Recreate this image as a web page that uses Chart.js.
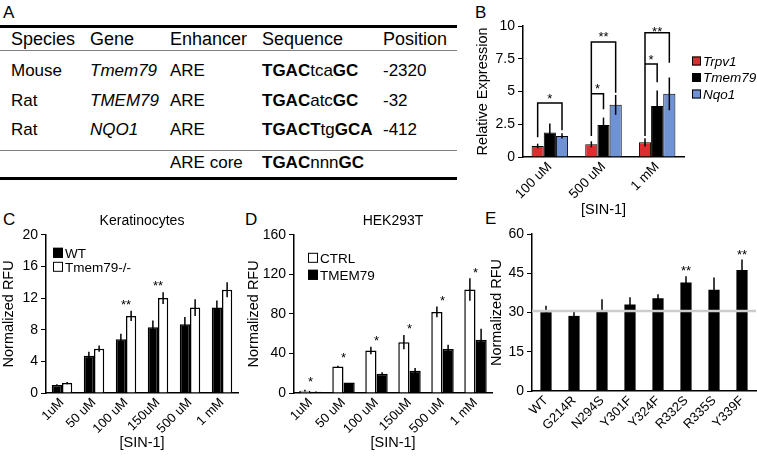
<!DOCTYPE html>
<html>
<head>
<meta charset="utf-8">
<script src="https://cdn.jsdelivr.net/npm/chart.js@4.4.0/dist/chart.umd.min.js"></script>
<style>
  body { margin: 0; width: 757px; height: 458px; position: relative; overflow: hidden; background: #fff;
         font-family: 'Liberation Sans', Arial, sans-serif; color: #000; }
  canvas { position: absolute; }
  .lbl { position: absolute; font-size: 17px; line-height: 17px; }
  .rule { position: absolute; left: 0; width: 457px; }
  .thick { height: 3px; background: #000; }
  .thin { height: 1px; background: #808080; }
  .cell { position: absolute; font-size: 17px; line-height: 20px; white-space: nowrap; }
  .hdr { font-size: 18px; }
</style>
</head>
<body>

<!-- panel letters -->
<div class="lbl" style="left:3px;top:4px">A</div>
<div class="lbl" style="left:475px;top:4px">B</div>
<div class="lbl" style="left:3px;top:211px">C</div>
<div class="lbl" style="left:245px;top:211px">D</div>
<div class="lbl" style="left:485px;top:210px">E</div>

<!-- A: ARE table -->
<div class="rule thick" style="top:25px"></div>
<div class="rule thin" style="top:50px"></div>
<div class="rule thin" style="top:150px"></div>
<div class="rule thick" style="top:177px"></div>

<div class="cell hdr" style="left:11px;top:29px">Species</div>
<div class="cell hdr" style="left:90px;top:29px">Gene</div>
<div class="cell hdr" style="left:170px;top:29px">Enhancer</div>
<div class="cell hdr" style="left:262px;top:29px">Sequence</div>
<div class="cell hdr" style="left:383px;top:29px">Position</div>

<div class="cell" style="left:11px;top:61px">Mouse</div>
<div class="cell" style="left:90px;top:61px"><i>Tmem79</i></div>
<div class="cell" style="left:170px;top:61px">ARE</div>
<div class="cell" style="left:262px;top:61px"><b>TGAC</b>tca<b>GC</b></div>
<div class="cell" style="left:383px;top:61px">-2320</div>

<div class="cell" style="left:11px;top:91px">Rat</div>
<div class="cell" style="left:90px;top:91px"><i>TMEM79</i></div>
<div class="cell" style="left:170px;top:91px">ARE</div>
<div class="cell" style="left:262px;top:91px"><b>TGAC</b>atc<b>GC</b></div>
<div class="cell" style="left:383px;top:91px">-32</div>

<div class="cell" style="left:11px;top:120px">Rat</div>
<div class="cell" style="left:90px;top:120px"><i>NQO1</i></div>
<div class="cell" style="left:170px;top:120px">ARE</div>
<div class="cell" style="left:262px;top:120px"><b>TGACT</b>tg<b>GCA</b></div>
<div class="cell" style="left:383px;top:120px">-412</div>

<div class="cell" style="left:170px;top:153px">ARE core</div>
<div class="cell" style="left:262px;top:153px"><b>TGAC</b>nnn<b>GC</b></div>

<canvas id="chartB" width="287" height="225" style="left:470px;top:0px"></canvas>
<canvas id="chartC" width="245" height="253" style="left:0px;top:205px"></canvas>
<canvas id="chartD" width="250" height="253" style="left:245px;top:205px"></canvas>
<canvas id="chartE" width="272" height="253" style="left:485px;top:205px"></canvas>

<script>
// ---- B: relative expression after SIN-1 ----
const doseB = ['100 uM', '500 uM', '1 mM'];
const trpv1 = [0.84, 0.97, 1.12];
const trpv1Err = [0.18, 0.23, 0.31];
const tmem79 = [1.87, 2.45, 3.9];
const tmem79Err = [0.68, 0.56, 1.18];
const nqo1 = [1.61, 3.98, 4.82];
const nqo1Err = [0.2, 0.76, 1.25];

// ---- C: keratinocytes ----
const doseSin = ['1uM', '50 uM', '100 uM', '150uM', '500 uM', '1 mM'];
const keratWT = [1.0, 4.7, 6.8, 8.3, 8.7, 10.8];
const keratWTErr = [0.1, 0.5, 0.7, 0.85, 0.9, 0.9];
const keratKO = [1.25, 5.6, 9.75, 12.0, 10.8, 13.05];
const keratKOErr = [0.15, 0.4, 0.65, 0.75, 1.05, 0.95];

// ---- D: HEK293T ----
const hekCtrl = [2.4, 26.7, 43, 51.4, 82, 104.6];
const hekCtrlErr = [1.0, 0.8, 3.8, 7.2, 5.5, 11.4];
const hekTmem = [1.2, 10.7, 19.5, 22.6, 44.6, 53.9];
const hekTmemErr = [0.3, 0, 1.5, 2.8, 4.1, 11.1];

// ---- E: point mutants ----
const mutants = ['WT', 'G214R', 'N294S', 'Y301F', 'Y324F', 'R332S', 'R335S', 'Y339F'];
const mutantRfu = [30.1, 28.7, 30.8, 33.1, 35.4, 41.5, 38.7, 46.2];
const mutantErr = [2.5, 2.2, 4.3, 2.7, 1.6, 2.4, 4.7, 4.1];
const wtLevel = 30.6;

// significance marks (value = where the mark sits on the y scale)
const starsC = [{ index: 2, value: 11.5, text: '**' }, { index: 3, value: 13.9, text: '**' }];
const starsD = [
  { index: 0, value: 14, text: '*' }, { index: 1, value: 38, text: '*' }, { index: 2, value: 56, text: '*' },
  { index: 3, value: 68, text: '*' }, { index: 4, value: 96, text: '*' }, { index: 5, value: 124, text: '*' }
];
const starsE = [{ index: 5, value: 47.1, text: '**' }, { index: 7, value: 53.3, text: '**' }];
// brackets in B: category, first / second series, bar level, ends of the two legs, mark level
const bracketsB = [
  { index: 0, from: 0, to: 2, top: 4.13, leftEnd: 1.5, rightEnd: 2.05, starAt: 4.67, text: '*' },
  { index: 1, from: 0, to: 2, top: 8.77, leftEnd: 1.6, rightEnd: 4.9, starAt: 9.4, text: '**' },
  { index: 1, from: 0, to: 1, top: 4.82, leftEnd: 4.82, rightEnd: 3.65, starAt: 5.4, text: '*' },
  { index: 2, from: 0, to: 2, top: 9.49, leftEnd: 1.6, rightEnd: 7.2, starAt: 9.8, text: '**' },
  { index: 2, from: 0, to: 1, top: 7.09, leftEnd: 7.09, rightEnd: 5.7, starAt: 7.65, text: '*' }
];

const FONT = "'Liberation Sans', Arial, sans-serif";
Chart.defaults.font.family = FONT;
Chart.defaults.color = '#000';
Chart.defaults.animation = false;

// error bars drawn from the dataset's errors array
const errorBars = {
  id: 'errorBars',
  afterDatasetsDraw(chart) {
    const { ctx, scales: { y } } = chart;
    ctx.save();
    ctx.strokeStyle = '#000';
    ctx.lineWidth = 1.5;
    chart.data.datasets.forEach((ds, di) => {
      if (!ds.errors) return;
      chart.getDatasetMeta(di).data.forEach((bar, i) => {
        const v = ds.data[i], e = ds.errors[i];
        if (!e) return;
        ctx.beginPath();
        ctx.moveTo(bar.x, y.getPixelForValue(Math.max(0, v - e)));
        ctx.lineTo(bar.x, y.getPixelForValue(v + e));
        ctx.stroke();
      });
    });
    ctx.restore();
  }
};

// stars, brackets and the grey WT line
const sigMarks = {
  id: 'sigMarks',
  afterDatasetsDraw(chart, args, opts) {
    const { ctx, chartArea, scales: { x, y } } = chart;
    ctx.save();
    if (opts.refLine != null) {
      ctx.strokeStyle = '#cccccc';
      ctx.lineWidth = 2.5;
      ctx.beginPath();
      ctx.moveTo(chartArea.left, y.getPixelForValue(opts.refLine));
      ctx.lineTo(chartArea.right, y.getPixelForValue(opts.refLine));
      ctx.stroke();
    }
    ctx.fillStyle = '#000';
    ctx.strokeStyle = '#000';
    ctx.lineWidth = 1.5;
    ctx.font = '13px ' + FONT;
    ctx.textAlign = 'center';
    ctx.textBaseline = 'alphabetic';
    (opts.stars || []).forEach(s => {
      ctx.fillText(s.text, x.getPixelForValue(s.index), y.getPixelForValue(s.value) + 7);
    });
    (opts.brackets || []).forEach(b => {
      const x1 = chart.getDatasetMeta(b.from).data[b.index].x;
      const x2 = chart.getDatasetMeta(b.to).data[b.index].x;
      const top = y.getPixelForValue(b.top);
      ctx.beginPath();
      ctx.moveTo(x1, y.getPixelForValue(b.leftEnd));
      ctx.lineTo(x1, top);
      ctx.lineTo(x2, top);
      ctx.lineTo(x2, y.getPixelForValue(b.rightEnd));
      ctx.stroke();
      ctx.fillText(b.text, (x1 + x2) / 2, y.getPixelForValue(b.starAt) + 7);
    });
    ctx.restore();
  }
};

// small square legend placed relative to the plot area
const boxLegend = {
  id: 'boxLegend',
  afterDraw(chart, args, opts) {
    if (!opts.rows) return;
    const { ctx, chartArea } = chart;
    const s = opts.box;
    ctx.save();
    ctx.font = (opts.italic ? 'italic ' : '') + opts.size + 'px ' + FONT;
    ctx.textBaseline = 'middle';
    ctx.textAlign = 'left';
    chart.data.datasets.forEach((ds, i) => {
      const x0 = (opts.right ? chartArea.right : chartArea.left) + opts.x;
      const yc = chartArea.top + opts.y + i * opts.rows;
      ctx.fillStyle = ds.backgroundColor;
      ctx.fillRect(x0, yc - s / 2, s, s);
      ctx.strokeStyle = ds.borderColor;
      ctx.lineWidth = 1;
      ctx.strokeRect(x0 + 0.5, yc - s / 2 + 0.5, s - 1, s - 1);
      ctx.fillStyle = '#000';
      ctx.fillText(ds.label, x0 + s + 2, yc + 1);
    });
    ctx.restore();
  }
};

function yAxis(max, step, title, width, titlePad) {
  return {
    min: 0,
    max: max,
    afterFit: s => { s.width = width; },
    ticks: { stepSize: step, font: { size: 14 }, padding: 3 },
    grid: { drawOnChartArea: false, drawTicks: true, tickLength: 5, color: '#000', lineWidth: 1 },
    border: { display: true, color: '#000', width: 1.5 },
    title: { display: true, text: title, font: { size: 14.5 }, padding: { top: titlePad, bottom: 0 } }
  };
}

function xAxis(title, height, fontSize) {
  return {
    afterFit: s => { s.height = height; },
    ticks: { minRotation: 45, maxRotation: 45, autoSkip: false, font: { size: fontSize }, padding: 2 },
    grid: { display: false, drawTicks: false },
    border: { display: true, color: '#000', width: 1.5 },
    title: { display: !!title, text: title || '', font: { size: 14.5 }, padding: { top: 0, bottom: 6 } }
  };
}

function titleOpts(text) {
  if (!text) return { display: false };
  return { display: true, text: text, fullSize: false, color: '#000',
           font: { size: 14, weight: 'normal' }, padding: { top: 8, bottom: 5 } };
}

function makeChart(id, cfg) {
  return new Chart(document.getElementById(id), {
    type: 'bar',
    data: { labels: cfg.labels, datasets: cfg.datasets },
    options: {
      responsive: false,
      animation: false,
      layout: { padding: cfg.padding },
      plugins: {
        legend: { display: false },
        tooltip: { enabled: false },
        title: titleOpts(cfg.title),
        boxLegend: cfg.legend || {},
        sigMarks: cfg.marks || {}
      },
      scales: { x: cfg.x, y: cfg.y }
    },
    plugins: [errorBars, sigMarks, boxLegend]
  });
}

// B
makeChart('chartB', {
  labels: doseB,
  padding: { left: 0, right: 73, top: 26, bottom: 0 },
  datasets: [
    { label: 'Trpv1', data: trpv1, errors: trpv1Err, backgroundColor: '#dc2e2e', borderColor: '#000', borderWidth: 1, categoryPercentage: 0.68, barPercentage: 1 },
    { label: 'Tmem79', data: tmem79, errors: tmem79Err, backgroundColor: '#000', borderColor: '#000', borderWidth: 1, categoryPercentage: 0.68, barPercentage: 1 },
    { label: 'Nqo1', data: nqo1, errors: nqo1Err, backgroundColor: '#6f93d2', borderColor: '#000', borderWidth: 1, categoryPercentage: 0.68, barPercentage: 1 }
  ],
  x: xAxis('[SIN-1]', 68, 13.5),
  y: yAxis(10, 2.5, 'Relative Expression', 53, 4),
  legend: { rows: 16.5, x: 8, y: 35, box: 9, size: 13.5, italic: true, right: true },
  marks: { brackets: bracketsB }
});

// C
makeChart('chartC', {
  labels: doseSin,
  title: 'Keratinocytes',
  padding: { left: 0, right: 7, top: 0, bottom: 0 },
  datasets: [
    { label: 'WT', data: keratWT, errors: keratWTErr, backgroundColor: '#000', borderColor: '#000', borderWidth: 1.5, categoryPercentage: 0.64, barPercentage: 1 },
    { label: 'Tmem79-/-', data: keratKO, errors: keratKOErr, backgroundColor: '#fff', borderColor: '#000', borderWidth: 1.5, categoryPercentage: 0.64, barPercentage: 1 }
  ],
  x: xAxis('[SIN-1]', 65, 13),
  y: yAxis(20, 4, 'Normalized RFU', 46, 0),
  legend: { rows: 14, x: 7, y: 18, box: 10, size: 13.5 },
  marks: { stars: starsC }
});

// D
makeChart('chartD', {
  labels: doseSin,
  title: 'HEK293T',
  padding: { left: 0, right: 3, top: 0, bottom: 0 },
  datasets: [
    { label: 'CTRL', data: hekCtrl, errors: hekCtrlErr, backgroundColor: '#fff', borderColor: '#000', borderWidth: 1.5, categoryPercentage: 0.68, barPercentage: 1 },
    { label: 'TMEM79', data: hekTmem, errors: hekTmemErr, backgroundColor: '#000', borderColor: '#000', borderWidth: 1.5, categoryPercentage: 0.68, barPercentage: 1 }
  ],
  x: xAxis('[SIN-1]', 65, 13),
  y: yAxis(160, 40, 'Normalized RFU', 49, 0),
  legend: { rows: 17, x: 14, y: 23, box: 10, size: 13.5 },
  marks: { stars: starsD }
});

// E
makeChart('chartE', {
  labels: mutants,
  padding: { left: 0, right: 1, top: 29, bottom: 0 },
  datasets: [
    { label: 'RFU', data: mutantRfu, errors: mutantErr, backgroundColor: '#000', borderColor: '#000', borderWidth: 0, categoryPercentage: 0.4, barPercentage: 1 }
  ],
  x: xAxis('', 67, 13),
  y: yAxis(60, 15, 'Normalized RFU', 47, 3),
  marks: { stars: starsE, refLine: wtLevel }
});
</script>
</body>
</html>
